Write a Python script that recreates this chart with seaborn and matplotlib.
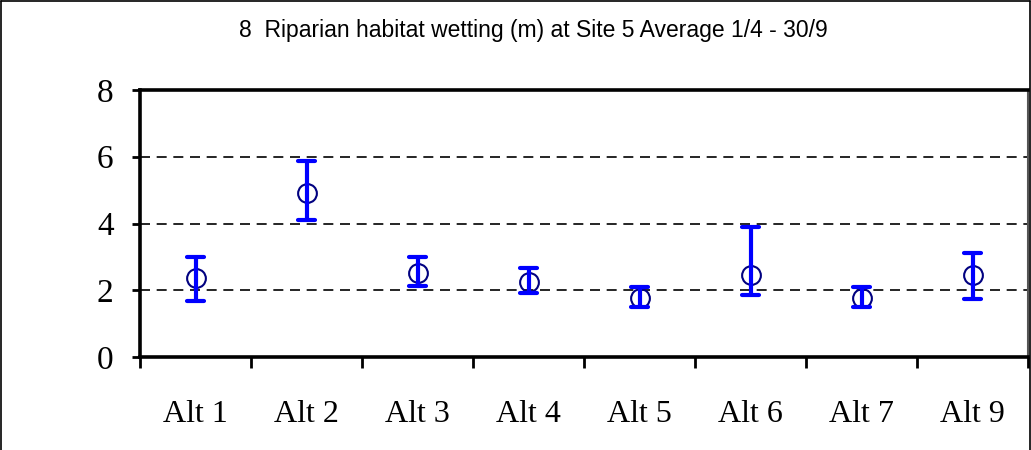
import matplotlib
matplotlib.use("Agg")
import matplotlib.pyplot as plt
from matplotlib.lines import Line2D
from matplotlib.ticker import FixedLocator
import seaborn as sns
import pandas as pd

# Average riparian habitat wetting per alternative, with low/high range
alternatives = ["Alt 1", "Alt 2", "Alt 3", "Alt 4", "Alt 5", "Alt 6", "Alt 7", "Alt 9"]
average = [2.37, 4.92, 2.52, 2.25, 1.76, 2.46, 1.76, 2.46]
low = [1.69, 4.10, 2.13, 1.91, 1.51, 1.86, 1.51, 1.74]
high = [3.00, 5.87, 3.00, 2.68, 2.09, 3.90, 2.09, 3.12]
y_ticks = [0, 2, 4, 6, 8]
title = "8  Riparian habitat wetting (m) at Site 5 Average 1/4 - 30/9"

# Long table: low / average / high per alternative; median gives the average,
# the full percentile interval gives the low-high range.
rows = []
for a, lo, m, hi in zip(alternatives, low, average, high):
    for v in (lo, m, hi):
        rows.append({"alt": a, "value": v})
df = pd.DataFrame(rows)

sns.set_style("white")
plt.rcParams["text.color"] = "black"
plt.rcParams["xtick.color"] = "black"
plt.rcParams["ytick.color"] = "black"

fig = plt.figure(figsize=(10.31, 4.5), dpi=100)
ax = fig.add_axes([140 / 1031, 1 - 357 / 450, (1028 - 140) / 1031, (357 - 90) / 450])

sns.pointplot(
    data=df, x="alt", y="value", order=alternatives,
    estimator="median", errorbar=("pi", 100),
    linestyle="none", marker="o", markersize=13.5,
    markerfacecolor="none", markeredgecolor="#000080", markeredgewidth=1.5,
    color="#000080", capsize=0.15,
    err_kws={"color": "#0000FF", "linewidth": 3},
    ax=ax,
)

ax.set_xlim(-0.5, len(alternatives) - 0.5)
ax.set_ylim(0, 8)
ax.set_yticks(y_ticks)
ax.set_xlabel("")
ax.set_ylabel("")

# Dashed horizontal grid
for yv in y_ticks[1:-1]:
    ax.axhline(yv, color="black", linewidth=1.2, dashes=(6, 4), zorder=0)

# Spines
for side in ("left", "bottom", "top"):
    ax.spines[side].set_color("black")
    ax.spines[side].set_linewidth(2.6)
ax.spines["right"].set_color("#555555")
ax.spines["right"].set_linewidth(1.5)

# Ticks: y ticks out, x ticks at category boundaries
ax.tick_params(axis="y", direction="out", length=6, width=2, pad=13,
               labelsize=24, left=True, labelcolor="black")
ax.tick_params(axis="x", which="major", length=0, pad=31, labelsize=23,
               labelcolor="black")
ax.xaxis.set_minor_locator(FixedLocator([i - 0.5 for i in range(len(alternatives) + 1)]))
ax.tick_params(axis="x", which="minor", direction="out", length=8, width=2,
               bottom=True, color="black")
for lbl in ax.get_xticklabels() + ax.get_yticklabels():
    lbl.set_family("Liberation Serif")

fig.text(533 / 1031, 1 - 30 / 450, title, ha="center", va="center",
         fontsize=16.5, family="Liberation Sans", color="black")

# Outer frame (left, top, right)
fw, fh = 1031, 450
frame_kw = dict(color="black", linewidth=1.2, transform=fig.transFigure)
fig.add_artist(Line2D([1 / fw, 1 / fw], [0, 1 - 1 / fh], **frame_kw))
fig.add_artist(Line2D([1 / fw, 1029.5 / fw], [1 - 1 / fh, 1 - 1 / fh], **frame_kw))
fig.add_artist(Line2D([1029.5 / fw, 1029.5 / fw], [0, 1 - 1 / fh], **frame_kw))

fig.savefig("out.png", dpi=100)
